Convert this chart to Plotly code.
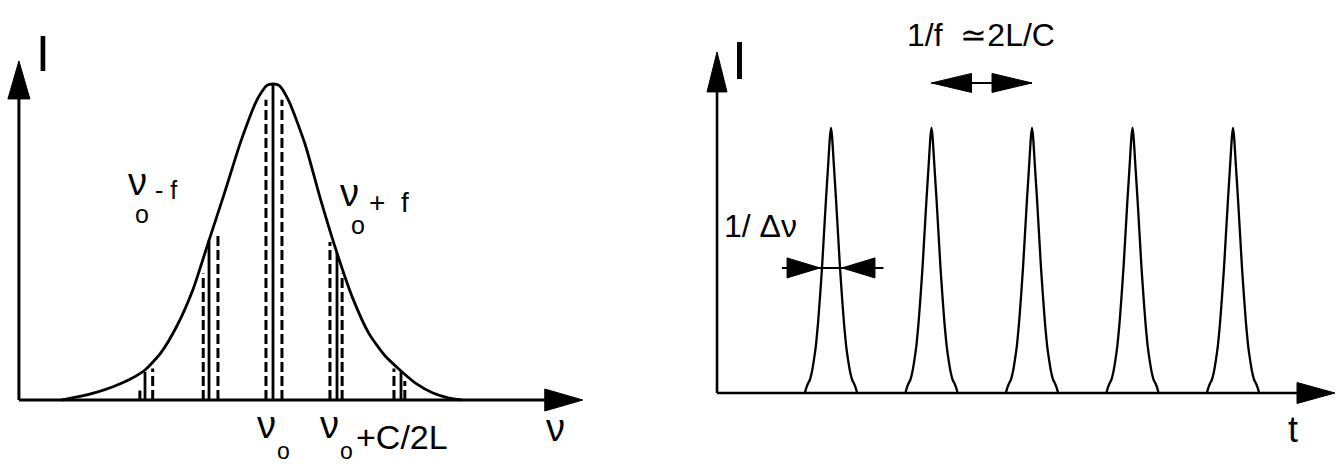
import plotly.graph_objects as go

# ---------------- left panel: mode spectrum (nu in units of f from nu0, I normalised) ----------------
nu_curve = [-3.30, -3.00, -2.75, -2.50, -2.25, -2.00, -1.75, -1.50, -1.25, -1.00, -0.75, -0.50, -0.25, -0.10,
            0.00, 0.10, 0.25, 0.50, 0.75, 1.00, 1.25, 1.50, 1.75, 2.00, 2.25, 2.50, 2.75, 2.95]
I_curve = [0.000, 0.012, 0.025, 0.042, 0.064, 0.095, 0.150, 0.235, 0.350, 0.505, 0.660, 0.820, 0.950, 0.995,
           1.000, 0.995, 0.945, 0.810, 0.630, 0.465, 0.320, 0.210, 0.140, 0.092, 0.050, 0.022, 0.006, 0.000]

mode_nu = [-2, -1, 0, 1, 2]                      # solid lines: nu0 + k f
mode_top = [0.089, 0.505, 1.000, 0.465, 0.089]

shift_nu = [-2.08, -1.88, -1.09, -0.86, -0.11, 0.14, 0.89, 1.08, 1.89, 2.06]   # dashed lines
shift_top = [0.030, 0.100, 0.400, 0.530, 0.950, 0.950, 0.500, 0.400, 0.100, 0.060]

left_x_axis = [-3.97, 4.84]      # start of axes, tip of nu-arrow
left_y_tip = 1.073

# ---------------- right panel: pulse train (t in units of 1/f) ----------------
pulse_t = [1, 2, 3, 4, 5]
pulse_dt = [-0.26, -0.245, -0.23, -0.21, -0.19, -0.17, -0.15, -0.13, -0.11, -0.09, -0.07, -0.05, -0.03, -0.01,
            0.0, 0.01, 0.03, 0.05, 0.07, 0.09, 0.11, 0.13, 0.15, 0.17, 0.19, 0.21, 0.23, 0.245, 0.26]
pulse_I = [0.000, 0.020, 0.035, 0.050, 0.080, 0.125, 0.180, 0.260, 0.360, 0.470, 0.600, 0.730, 0.850, 0.970,
           1.000, 0.970, 0.850, 0.730, 0.600, 0.470, 0.360, 0.260, 0.180, 0.125, 0.080, 0.050, 0.035, 0.020, 0.000]

right_x_axis = [-0.134, 6.015]
right_y_tip = 1.287

period_arrow_t = [2, 3]
period_arrow_I = 1.17
width_arrow_t = [0.512, 0.891, 1.109, 1.522]   # tail, tip, tip, tail
width_arrow_I = 0.472

# ---------------- layout geometry (pixels) ----------------
W, H = 1336, 468
SPLIT = 600
L_X0, L_DX = 273, 64      # pixel of nu0 and pixels per f
L_Y0, L_DY = 400, 316     # baseline pixel and pixels per unit I
R_X0, R_DX = 831, 100.5   # pixel of t=1 and pixels per period
R_Y0, R_DY = 393, 265

BLACK = "black"
FONT = "Liberation Sans, Arial, sans-serif"

fig = go.Figure()

# spectrum envelope
fig.add_trace(go.Scatter(x=nu_curve, y=I_curve, mode="lines", line=dict(color=BLACK, width=2.8, shape="spline", smoothing=0.6),
                         xaxis="x", yaxis="y", hoverinfo="skip"))

# solid mode lines
sx, sy = [], []
for n, t in zip(mode_nu, mode_top):
    sx += [n, n, None]
    sy += [0, t, None]
fig.add_trace(go.Scatter(x=sx, y=sy, mode="lines", line=dict(color=BLACK, width=2.8), xaxis="x", yaxis="y", hoverinfo="skip"))

# dashed shifted modes
for n, t in zip(shift_nu, shift_top):
    fig.add_trace(go.Scatter(x=[n, n], y=[0, t], mode="lines", line=dict(color=BLACK, width=3, dash="10px,4px"),
                             xaxis="x", yaxis="y", hoverinfo="skip"))

# pulses
for c in pulse_t:
    fig.add_trace(go.Scatter(x=[c + d for d in pulse_dt], y=pulse_I, mode="lines",
                             line=dict(color=BLACK, width=2.3, shape="spline", smoothing=0.5),
                             xaxis="x2", yaxis="y2", hoverinfo="skip"))

shapes = []


def seg(xref, yref, x0, y0, x1, y1, w):
    shapes.append(dict(type="line", xref=xref, yref=yref, x0=x0, y0=y0, x1=x1, y1=y1,
                       line=dict(color=BLACK, width=w)))


def head(xref, yref, x, y, path):
    shapes.append(dict(type="path", xref=xref, yref=yref, xsizemode="pixel", ysizemode="pixel",
                       xanchor=x, yanchor=y, path=path, fillcolor=BLACK, line=dict(color=BLACK, width=1)))


# left axes
seg("x", "y", left_x_axis[0], 0, left_x_axis[1] - 0.3, 0, 3)
seg("x", "y", left_x_axis[0], 0, left_x_axis[0], left_y_tip - 0.05, 3)
head("x", "y", left_x_axis[1], 0, "M0,0 L-38,11 L-38,-11 Z")
head("x", "y", left_x_axis[0], left_y_tip, "M0,0 L-11,-38 L11,-38 Z")

# right axes
seg("x2", "y2", right_x_axis[0], 0, right_x_axis[1] - 0.2, 0, 2.6)
seg("x2", "y2", right_x_axis[0], 0, right_x_axis[0], right_y_tip - 0.05, 2.6)
head("x2", "y2", right_x_axis[1], 0, "M0,0 L-38,10.5 L-38,-10.5 Z")
head("x2", "y2", right_x_axis[0], right_y_tip, "M0,0 L-10,-40 L10,-40 Z")

# period arrow
seg("x2", "y2", period_arrow_t[0], period_arrow_I, period_arrow_t[1], period_arrow_I, 2)
head("x2", "y2", period_arrow_t[0], period_arrow_I, "M0,0 L40,9.5 L40,-9.5 Z")
head("x2", "y2", period_arrow_t[1], period_arrow_I, "M0,0 L-40,9.5 L-40,-9.5 Z")

# width arrows
seg("x2", "y2", width_arrow_t[0], width_arrow_I, width_arrow_t[3], width_arrow_I, 2)
head("x2", "y2", width_arrow_t[1], width_arrow_I, "M0,0 L-33,10 L-33,-10 Z")
head("x2", "y2", width_arrow_t[2], width_arrow_I, "M0,0 L33,10 L33,-10 Z")

annotations = []


def txt(xref, yref, x, y, s, size, xanchor="center"):
    annotations.append(dict(xref=xref, yref=yref, x=x, y=y, text=s, showarrow=False, xanchor=xanchor, yanchor="middle",
                            font=dict(family=FONT, size=size, color=BLACK)))


# left labels
txt("x", "y", -3.59, 1.095, "I", 50)
txt("x", "y", -2.12, 0.690, "ν", 38)
txt("x", "y", -2.05, 0.590, "o", 25)
txt("x", "y", -1.67, 0.665, "-\u00a0f", 25)
txt("x", "y", 1.20, 0.655, "ν", 38)
txt("x", "y", 1.33, 0.555, "o", 25)
txt("x", "y", 1.81, 0.625, "+\u00a0\u00a0f", 28)
txt("x", "y", -0.10, -0.080, "ν", 38)
txt("x", "y", 0.17, -0.160, "o", 23)
txt("x", "y", 0.89, -0.080, "ν", 38)
txt("x", "y", 1.15, -0.160, "o", 23)
txt("x", "y", 2.02, -0.118, "+C/2L", 34)
txt("x", "y", 4.41, -0.088, "ν", 38)

# right labels
txt("x2", "y2", 0.085, 1.257, "I", 54)
txt("x2", "y2", 5.597, -0.136, "t", 36)
txt("x2", "y2", 2.493, 1.351, "1/f\u00a0 ≃2L/C", 32)
txt("x2", "y2", 0.300, 0.630, "1/\u00a0Δν", 32)

fig.update_layout(
    width=W, height=H, margin=dict(l=0, r=0, t=0, b=0),
    paper_bgcolor="white", plot_bgcolor="white", showlegend=False,
    shapes=shapes, annotations=annotations,
    xaxis=dict(domain=[0, SPLIT / W], range=[-L_X0 / L_DX, (SPLIT - L_X0) / L_DX], visible=False, fixedrange=True),
    yaxis=dict(domain=[0, 1], range=[(L_Y0 - H) / L_DY, L_Y0 / L_DY], visible=False, fixedrange=True),
    xaxis2=dict(domain=[SPLIT / W, 1], range=[1 + (SPLIT - R_X0) / R_DX, 1 + (W - R_X0) / R_DX], visible=False,
                fixedrange=True),
    yaxis2=dict(domain=[0, 1], range=[(R_Y0 - H) / R_DY, R_Y0 / R_DY], visible=False, fixedrange=True, anchor="x2"),
)

fig.write_html("out.html")
